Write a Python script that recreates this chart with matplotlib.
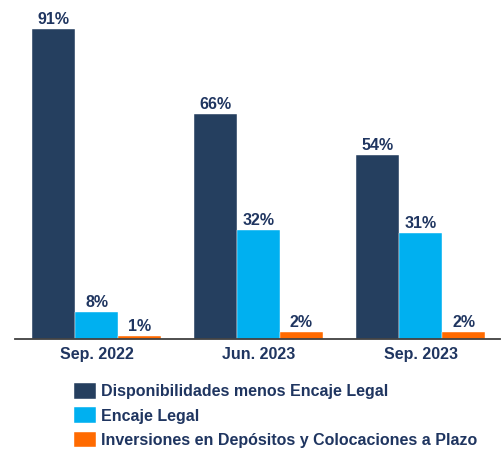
import numpy as np
import matplotlib
matplotlib.use('Agg')
import matplotlib.pyplot as plt
from matplotlib.patches import Patch

# data
categories = ['Sep. 2022', 'Jun. 2023', 'Sep. 2023']
series_names = ['Disponibilidades menos Encaje Legal',
                'Encaje Legal',
                'Inversiones en Depósitos y Colocaciones a Plazo']
disponibilidades = [91, 66, 54]
encaje = [8, 32, 31]
inversiones = [1, 2, 2]

colors = ['#253F5F', '#00B0F0', '#FF6A00']
text_color = '#1F3560'

plt.rcParams['font.family'] = ['Liberation Sans', 'DejaVu Sans']

fig = plt.figure(figsize=(5.01, 4.51), dpi=100)
ax = fig.add_axes([15 / 501, 112 / 451, 485 / 501, 339 / 451])

x = np.arange(len(categories))
width = 0.265
all_series = [disponibilidades, encaje, inversiones]
for i, (vals, col) in enumerate(zip(all_series, colors)):
    pos = x + (i - 1) * width
    ax.bar(pos, vals, width, color=col, edgecolor='white', linewidth=0.3)
    for p, v in zip(pos, vals):
        ax.annotate(f'{v}%', (p, v), xytext=(0, 1.5), textcoords='offset points',
                    ha='center', va='bottom', fontsize=11.5,
                    fontweight='bold', color=text_color)

ax.set_xlim(-0.503, 2.49)
ax.set_ylim(0, 99.4)
ax.set_xticks(x)
ax.set_xticklabels(categories, fontsize=11.5, fontweight='bold', color=text_color)
ax.tick_params(axis='x', length=0, pad=5.5)
ax.set_yticks([])
for s in ['top', 'right', 'left']:
    ax.spines[s].set_visible(False)
ax.spines['bottom'].set_color('#404040')
ax.spines['bottom'].set_linewidth(1.3)

handles = [Patch(facecolor=c, edgecolor='white', linewidth=0.3) for c in colors]
leg = fig.legend(handles, series_names, loc='upper left',
                 bbox_to_anchor=(66 / 501, 1 - 375 / 451), frameon=False,
                 handlelength=1.35, handleheight=1.15,
                 handletextpad=0.37, labelspacing=0.5, borderpad=0,
                 prop={'weight': 'bold', 'size': 11.5})
for t in leg.get_texts():
    t.set_color(text_color)

fig.savefig('out.png', dpi=100)
